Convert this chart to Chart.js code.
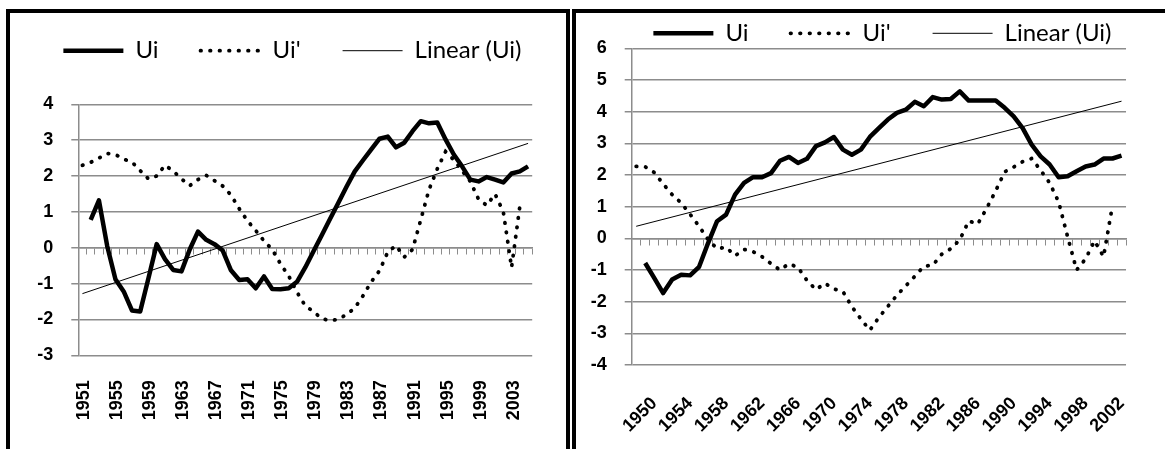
<!DOCTYPE html>
<html>
<head>
<meta charset="utf-8">
<script src="https://cdn.jsdelivr.net/npm/chart.js@4.4.1/dist/chart.umd.min.js"></script>
<style>
  html, body { margin: 0; padding: 0; background: #fff; }
  body { width: 1165px; height: 449px; position: relative; overflow: hidden; }
  .panel { position: absolute; border: 4px solid #000; box-sizing: border-box; }
  .wrap { position: absolute; top: 0; height: 449px; }
</style>
</head>
<body>
<div class="panel" style="left:6px;top:9px;width:564px;height:470px"></div>
<div class="panel" style="left:572px;top:9px;width:620px;height:470px"></div>
<div class="wrap" style="left:0;width:575px"><canvas id="leftChart"></canvas></div>
<div class="wrap" style="left:576px;width:589px"><canvas id="rightChart"></canvas></div>
<script>
// left chart: years 1951-2005
const leftYears = ['1951','1952','1953','1954','1955','1956','1957','1958','1959','1960',
  '1961','1962','1963','1964','1965','1966','1967','1968','1969','1970',
  '1971','1972','1973','1974','1975','1976','1977','1978','1979','1980',
  '1981','1982','1983','1984','1985','1986','1987','1988','1989','1990',
  '1991','1992','1993','1994','1995','1996','1997','1998','1999','2000',
  '2001','2002','2003','2004','2005'];
const leftUi = [null, 0.78, 1.32, 0.05, -0.88, -1.22, -1.75, -1.78, -0.85, 0.10,
  -0.32, -0.62, -0.66, -0.05, 0.45, 0.22, 0.10, -0.08, -0.63, -0.90,
  -0.88, -1.13, -0.80, -1.15, -1.16, -1.13, -0.95, -0.55, -0.10, 0.35,
  0.80, 1.25, 1.70, 2.13, 2.44, 2.74, 3.04, 3.10, 2.80, 2.93,
  3.25, 3.53, 3.47, 3.49, 3.02, 2.60, 2.27, 1.90, 1.85, 1.97,
  1.90, 1.82, 2.07, 2.13, 2.27];
const leftUiPrime = [2.30, 2.38, 2.50, 2.63, 2.60, 2.47, 2.39, 2.15, 1.92, 2.00,
  2.30, 2.14, 1.92, 1.73, 1.90, 2.02, 1.87, 1.72, 1.47, 1.09,
  0.75, 0.48, 0.19, -0.05, -0.45, -0.79, -1.24, -1.62, -1.78, -1.98,
  -2.03, -2.00, -1.86, -1.68, -1.34, -0.95, -0.64, -0.12, 0.06, -0.26,
  -0.05, 0.78, 1.62, 2.20, 2.68, 2.45, 2.15, 1.85, 1.35, 1.18,
  1.50, 1.00, -0.55, 1.15, null];
const leftTrendEnds = [-1.28, 2.91];

// right chart: years 1950-2004
const rightYears = ['1950','1951','1952','1953','1954','1955','1956','1957','1958','1959',
  '1960','1961','1962','1963','1964','1965','1966','1967','1968','1969',
  '1970','1971','1972','1973','1974','1975','1976','1977','1978','1979',
  '1980','1981','1982','1983','1984','1985','1986','1987','1988','1989',
  '1990','1991','1992','1993','1994','1995','1996','1997','1998','1999',
  '2000','2001','2002','2003','2004'];
const rightUi = [null, -0.78, -1.25, -1.73, -1.30, -1.15, -1.17, -0.90, -0.15, 0.54,
  0.75, 1.38, 1.75, 1.93, 1.93, 2.06, 2.45, 2.57, 2.38, 2.51,
  2.91, 3.03, 3.20, 2.80, 2.64, 2.80, 3.20, 3.48, 3.75, 3.96,
  4.06, 4.31, 4.17, 4.46, 4.38, 4.40, 4.64, 4.35, 4.35, 4.35,
  4.35, 4.12, 3.85, 3.48, 2.96, 2.59, 2.33, 1.93, 1.96, 2.12,
  2.27, 2.33, 2.52, 2.52, 2.61];
const rightUiPrime = [2.27, 2.26, 2.08, 1.72, 1.38, 1.12, 0.76, 0.38, -0.04, -0.33,
  -0.28, -0.55, -0.35, -0.42, -0.58, -0.80, -1.00, -0.80, -0.92, -1.33,
  -1.62, -1.42, -1.60, -1.68, -2.16, -2.55, -2.90, -2.50, -2.15, -1.80,
  -1.50, -1.20, -0.88, -0.85, -0.50, -0.33, -0.05, 0.55, 0.45, 0.95,
  1.50, 2.10, 2.25, 2.42, 2.52, 2.15, 1.75, 1.15, 0.05, -1.00,
  -0.65, -0.08, -0.58, 1.05, null];
const rightTrendEnds = [0.38, 4.33];

const GRID = '#8c8c8c';
const tickFont = { family: '"Liberation Sans", Arial, sans-serif', size: 18, weight: 'bold' };
const legendFont = { family: 'Lato, "Open Sans", sans-serif', size: 24 };

Chart.defaults.color = '#000';

// fixes the legend block height, keeps it on one row and nudges it into place
const legendPlacer = {
  id: 'legendPlacer',
  beforeLayout(chart, args, opts) {
    const legend = chart.legend;
    if (!legend || legend._patched) return;
    const fit = legend.fit;
    legend.fit = function () {
      this.maxWidth = opts.maxWidth;
      fit.call(this);
      this.height = opts.height;
    };
    legend._patched = true;
  },
  afterLayout(chart, args, opts) {
    const legend = chart.legend;
    // widen both sides equally so the row stays centred but never wraps
    legend.left += opts.dx - 60;
    legend.right += opts.dx + 60;
    legend.top += opts.dy;
  }
};

// legend samples straight from the dataset line styles
const lineLegendItems = (chart) => chart.data.datasets.map((ds, i) => ({
  text: ds.label,
  strokeStyle: ds.borderColor,
  fillStyle: ds.borderColor,
  lineWidth: ds.borderWidth,
  lineDash: ds.borderDash || [],
  lineCap: ds.borderCapStyle || 'butt',
  pointStyle: 'line',
  fontColor: '#000',
  hidden: false,
  datasetIndex: i
}));

const trendData = (labels, ends) => labels.map((_, i) => i === 0 ? ends[0] : (i === labels.length - 1 ? ends[1] : null));

const makeChart = (id, s) => {
  const ctx = document.getElementById(id);
  return new Chart(ctx, {
    type: 'line',
    data: {
      labels: s.labels,
      datasets: [
        { label: 'Ui', data: s.ui, borderColor: '#000', borderWidth: 4.5,
          borderJoinStyle: 'round', pointRadius: 0, tension: 0 },
        { label: "Ui'", data: s.uiPrime, borderColor: '#000', borderWidth: 3.8,
          borderDash: [0.5, 9], borderCapStyle: 'round', pointRadius: 0, tension: 0 },
        { label: 'Linear (Ui)', data: trendData(s.labels, s.trend), borderColor: '#000',
          borderWidth: 1, pointRadius: 0, spanGaps: true }
      ]
    },
    options: {
      responsive: true,
      maintainAspectRatio: false,
      animation: false,
      layout: { padding: { top: 0, left: 0, bottom: 0, right: s.padRight } },
      plugins: {
        tooltip: { enabled: false },
        legendPlacer: { height: s.legendHeight, dx: s.legendDx, dy: s.legendDy, maxWidth: 800 },
        legend: {
          position: 'top',
          labels: {
            usePointStyle: true,
            pointStyleWidth: 60,
            padding: 42,
            font: legendFont,
            color: '#000',
            generateLabels: lineLegendItems
          }
        }
      },
      scales: {
        x: {
          type: 'category',
          position: 'bottom',
          offset: true,
          grid: { display: false, drawTicks: false },
          border: { display: false },
          ticks: {
            autoSkip: false,
            minRotation: s.rotation,
            maxRotation: s.rotation,
            padding: s.labelPad,
            labelOffset: s.labelShift,
            font: tickFont,
            color: '#000',
            callback: (v, i) => i % 4 === 0 ? s.labels[i] : ''
          },
          afterFit: (scale) => { scale.height = s.xHeight; }
        },
        x0: {
          type: 'category',
          position: { y: 0 },
          offset: true,
          grid: { offset: true, drawOnChartArea: false, drawTicks: true, tickLength: 6, color: GRID, lineWidth: 1 },
          border: { display: true, color: GRID, width: 1.5 },
          ticks: { display: false }
        },
        y: {
          min: s.yMin,
          max: s.yMax,
          grid: { color: GRID, lineWidth: 1.5, drawTicks: true, tickLength: 7 },
          border: { display: true, color: GRID, width: 1.5 },
          ticks: { stepSize: 1, padding: 18, font: tickFont, color: '#000' },
          afterFit: (scale) => { scale.width = s.yWidth; }
        }
      }
    },
    plugins: [legendPlacer]
  });
};

makeChart('leftChart', {
  labels: leftYears, ui: leftUi, uiPrime: leftUiPrime, trend: leftTrendEnds,
  yMin: -3, yMax: 4, rotation: 90, labelPad: 25, labelShift: 2,
  yWidth: 78.3, xHeight: 93.7, padRight: 36.3,
  legendHeight: 104.3, legendDx: 23.1, legendDy: -3.3
});

makeChart('rightChart', {
  labels: rightYears, ui: rightUi, uiPrime: rightUiPrime, trend: rightTrendEnds,
  yMin: -4, yMax: 6, rotation: 45, labelPad: 28, labelShift: 18,
  yWidth: 55.7, xHeight: 84, padRight: 21.7,
  legendHeight: 48.3, legendDx: 22.8, legendDy: -20.7
});
</script>
</body>
</html>
